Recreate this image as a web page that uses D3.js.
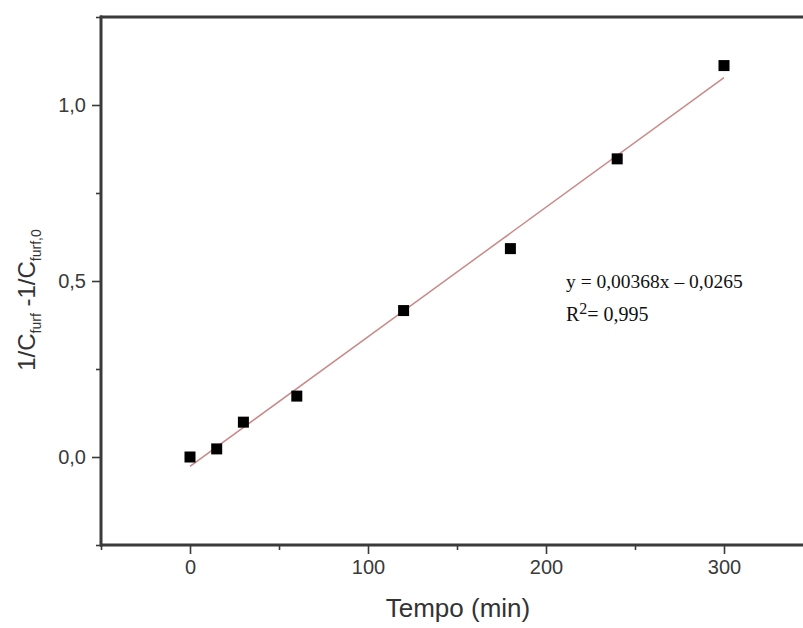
<!DOCTYPE html>
<html><head><meta charset="utf-8">
<script src="https://cdn.jsdelivr.net/npm/d3@7"></script>
<style>body{margin:0;background:#fff}svg{display:block}</style>
</head><body>
<script>
const times = [0, 15, 30, 60, 120, 180, 240, 300];
const values = [0.0, 0.023, 0.099, 0.173, 0.416, 0.592, 0.847, 1.112];
const slope = 0.00368, intercept = -0.0265;
const xMajor = [0, 100, 200, 300];
const xMinor = [-50, 50, 150, 250];
const yMajor = [0.0, 0.5, 1.0];
const yMinor = [-0.25, 0.25, 0.75, 1.25];
const yLabels = ["0,0", "0,5", "1,0"];
const eqLines = ["y = 0,00368x \u2013 0,0265", "R²= 0,995"];

const W = 803, H = 628;
const svg = d3.select("body").append("svg").attr("width", W).attr("height", H);
const x = d3.scaleLinear().domain([-50, 350]).range([101, 813]);
const y = d3.scaleLinear().domain([-0.25, 1.25]).range([545, 17]);
const axisColor = "#3a3a3a";
const sans = "Liberation Sans, Arial, sans-serif";

// top frame line
svg.append("line").attr("x1", 100).attr("x2", W).attr("y1", 17).attr("y2", 17).attr("stroke", axisColor).attr("stroke-width", 3);

const xAxis = d3.axisBottom(x).tickValues(xMajor).tickSize(9).tickPadding(6).tickFormat(d3.format("d"));
const gx = svg.append("g").attr("transform", "translate(0,545)").call(xAxis);
gx.select(".domain").remove();
gx.append("line").attr("x1", 100).attr("x2", W).attr("y1", 0).attr("y2", 0).attr("stroke", axisColor).attr("stroke-width", 3);
gx.selectAll(".tick line").attr("stroke", axisColor).attr("stroke-width", 1.6);
gx.selectAll("text").attr("font-family", sans).attr("font-size", 20).attr("fill", "#3a3a3a");
svg.append("g").attr("transform", "translate(0,545)").call(d3.axisBottom(x).tickValues(xMinor).tickSize(5).tickFormat(""))
  .call(g => { g.select(".domain").remove(); g.selectAll("line").attr("stroke", axisColor).attr("stroke-width", 1.6); });

const yAxis = d3.axisLeft(y).tickValues(yMajor).tickSize(9).tickPadding(6).tickFormat((d, i) => yLabels[i]);
const gy = svg.append("g").attr("transform", "translate(101,0)").call(yAxis);
gy.select(".domain").remove();
gy.append("line").attr("x1", 0).attr("x2", 0).attr("y1", 15.5).attr("y2", 546.5).attr("stroke", axisColor).attr("stroke-width", 3);
gy.selectAll(".tick line").attr("stroke", axisColor).attr("stroke-width", 1.6);
gy.selectAll("text").attr("font-family", sans).attr("font-size", 20).attr("fill", "#3a3a3a");
svg.append("g").attr("transform", "translate(101,0)").call(d3.axisLeft(y).tickValues(yMinor).tickSize(5).tickFormat(""))
  .call(g => { g.select(".domain").remove(); g.selectAll("line").attr("stroke", axisColor).attr("stroke-width", 1.6); });

// fit line
svg.append("line")
  .attr("x1", x(0)).attr("y1", y(intercept))
  .attr("x2", x(300)).attr("y2", y(slope * 300 + intercept))
  .attr("stroke", "#c98a8a").attr("stroke-width", 1.5);

// points
svg.selectAll("rect.pt").data(times).enter().append("rect")
  .attr("class", "pt")
  .attr("x", (d) => x(d) - 5.5).attr("y", (d, i) => y(values[i]) - 5.5)
  .attr("width", 11).attr("height", 11).attr("fill", "#000");

// equation text
const serif = "Liberation Serif, Times New Roman, serif";
svg.append("text").attr("font-family", serif).attr("font-size", 19.5).attr("fill", "#111")
  .attr("x", 566).attr("y", 288).text(eqLines[0]);
const r = svg.append("text").attr("font-family", serif).attr("font-size", 20).attr("fill", "#111").attr("x", 566).attr("y", 321);
r.append("tspan").text("R");
r.append("tspan").attr("font-size", 16).attr("dy", -7).text("2");
r.append("tspan").attr("dy", 7).text("= 0,995");

// axis titles
svg.append("text").attr("x", 458).attr("y", 617).attr("text-anchor", "middle")
  .attr("font-family", sans).attr("font-size", 26).attr("fill", "#333").text("Tempo (min)");

const yl = svg.append("text").attr("transform", "translate(35,300) rotate(-90)").attr("text-anchor", "middle")
  .attr("font-family", sans).attr("font-size", 24).attr("fill", "#333");
yl.append("tspan").text("1/C");
yl.append("tspan").attr("font-size", 14).attr("dy", 6).text("furf");
yl.append("tspan").attr("dy", -6).text(" -1/C");
yl.append("tspan").attr("font-size", 14).attr("dy", 6).text("furf,0");
</script>
</body></html>
